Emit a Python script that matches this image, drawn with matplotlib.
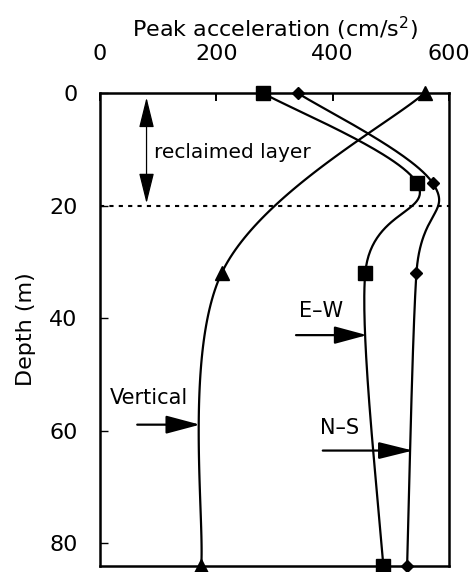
import numpy as np
import matplotlib
matplotlib.use("Agg")
import matplotlib.pyplot as plt

# peak acceleration profiles with depth (cm/s^2)
depth_h = [0, 16, 32, 84]
ew_acc = [280, 545, 456, 487]
ns_acc = [340, 572, 544, 528]
depth_v = [0, 32, 84]
ud_acc = [558, 209, 174]

x_ticks = [0, 200, 400, 600]
y_ticks = [0, 20, 40, 60, 80]
layer_depth = 20


def smooth(ax, xs, ys, n=60):
    # bezier smoothing through the points, done in screen space
    pts = ax.transData.transform(np.column_stack([xs, ys]))
    t = np.linspace(0, 1, n)[:, None]
    segs = []
    for i in range(len(pts) - 1):
        p0 = pts[max(i - 1, 0)]
        p1 = pts[i]
        p2 = pts[i + 1]
        p3 = pts[min(i + 2, len(pts) - 1)]
        c1 = p1 + (p2 - p0) / 6
        c2 = p2 - (p3 - p1) / 6
        segs.append((1 - t)**3 * p1 + 3 * (1 - t)**2 * t * c1
                    + 3 * (1 - t) * t**2 * c2 + t**3 * p2)
    xy = ax.transData.inverted().transform(np.vstack(segs))
    return xy[:, 0], xy[:, 1]


fig = plt.figure(figsize=(4.77, 5.72), dpi=100)
ax = fig.add_axes([100 / 477, 1 - 566 / 572, 349 / 477, 473 / 572])
ax.set_xlim(0, 600)
ax.set_ylim(84, 0)

for xs, ys, mk, ms in [(ew_acc, depth_h, "s", 9.5),
                       (ns_acc, depth_h, "D", 6.5),
                       (ud_acc, depth_v, "^", 10)]:
    sx, sy = smooth(ax, xs, ys)
    ax.plot(sx, sy, color="k", lw=1.6)
    ax.plot(xs, ys, ls="none", marker=mk, ms=ms, color="k", clip_on=False, zorder=5)

ax.axhline(layer_depth, color="k", lw=1.5, ls=(0, (2, 2.5)))

# reclaimed layer thickness
ax.annotate("", xy=(80, 0.8), xytext=(80, 19.6),
            arrowprops=dict(arrowstyle="<|-|>,head_length=19,head_width=4.7",
                            mutation_scale=1, lw=0.9, color="k",
                            shrinkA=0, shrinkB=0))
ax.text(92, 10.6, "reclaimed layer", fontsize=14.5, va="center", ha="left")

# component labels
arrow_kw = dict(mutation_scale=1, lw=1.6, color="k", shrinkA=0, shrinkB=0)
ax.annotate("", xy=(459, 43), xytext=(337, 43),
            arrowprops=dict(arrowstyle="-|>,head_length=20,head_width=5.4", **arrow_kw))
ax.text(380, 38.7, "E\u2013W", fontsize=15, ha="center", va="center")

ax.annotate("", xy=(172, 58.9), xytext=(64, 58.9),
            arrowprops=dict(arrowstyle="-|>,head_length=21,head_width=5.6", **arrow_kw))
ax.text(84, 54.2, "Vertical", fontsize=15, ha="center", va="center")

ax.annotate("", xy=(538, 63.5), xytext=(383, 63.5),
            arrowprops=dict(arrowstyle="-|>,head_length=21,head_width=5.2", **arrow_kw))
ax.text(411, 59.5, "N\u2013S", fontsize=15, ha="center", va="center")

ax.xaxis.tick_top()
ax.xaxis.set_label_position("top")
ax.set_xticks(x_ticks)
ax.set_yticks(y_ticks)
ax.tick_params(axis="x", direction="in", length=6, width=1.4, labelsize=16, pad=21)
ax.tick_params(axis="y", direction="in", length=6, width=1.0, labelsize=16, pad=16)
ax.set_xlabel("Peak acceleration (cm/s$^2$)", fontsize=16, labelpad=5)
ax.set_ylabel("Depth (m)", fontsize=16, labelpad=10)
for s in ax.spines.values():
    s.set_linewidth(1.8)

fig.savefig("out.png", dpi=100)
